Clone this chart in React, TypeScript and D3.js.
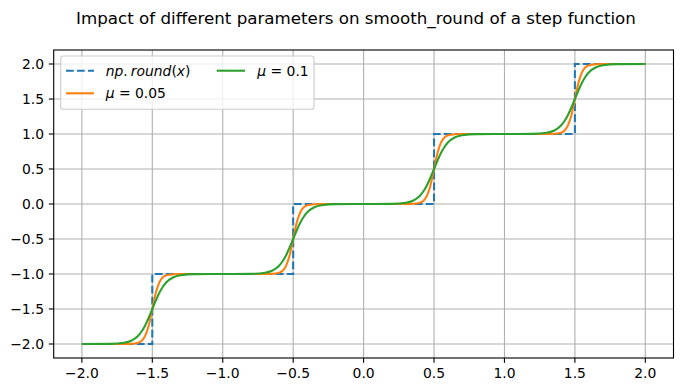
import React from "react";
import * as d3 from "d3";

// ---- data ----
const stepX = [-2, -1.5, -1.5, -0.5, -0.5, 0.5, 0.5, 1.5, 1.5, 2];
const stepY = [-2, -2, -1, -1, 0, 0, 1, 1, 2, 2];

const sampleX = [
  -2.0,
  -1.8, -1.7, -1.65, -1.6, -1.575, -1.55, -1.525, -1.5, -1.475, -1.45, -1.425, -1.4, -1.35, -1.3, -1.2,
  -1.0,
  -0.8, -0.7, -0.65, -0.6, -0.575, -0.55, -0.525, -0.5, -0.475, -0.45, -0.425, -0.4, -0.35, -0.3, -0.2,
  0.0,
  0.2, 0.3, 0.35, 0.4, 0.425, 0.45, 0.475, 0.5, 0.525, 0.55, 0.575, 0.6, 0.65, 0.7, 0.8,
  1.0,
  1.2, 1.3, 1.35, 1.4, 1.425, 1.45, 1.475, 1.5, 1.525, 1.55, 1.575, 1.6, 1.65, 1.7, 1.8,
  2.0,
];

const mu005Y = [
  -2,
  -2, -2, -1.997, -1.982, -1.953, -1.881, -1.731, -1.5, -1.269, -1.119, -1.047, -1.018, -1.003, -1, -1,
  -1,
  -1, -1, -0.997, -0.982, -0.953, -0.881, -0.731, -0.5, -0.269, -0.119, -0.047, -0.018, -0.003, 0, 0,
  0,
  0, 0, 0.003, 0.018, 0.047, 0.119, 0.269, 0.5, 0.731, 0.881, 0.953, 0.982, 0.997, 1, 1,
  1,
  1, 1, 1.003, 1.018, 1.047, 1.119, 1.269, 1.5, 1.731, 1.881, 1.953, 1.982, 1.997, 2, 2,
  2,
];

const mu01Y = [
  -2,
  -1.998, -1.982, -1.953, -1.881, -1.818, -1.731, -1.622, -1.5, -1.378, -1.269, -1.182, -1.119, -1.047, -1.018, -1.002,
  -1,
  -0.998, -0.982, -0.953, -0.881, -0.818, -0.731, -0.622, -0.5, -0.378, -0.269, -0.182, -0.119, -0.047, -0.018, -0.002,
  0,
  0.002, 0.018, 0.047, 0.119, 0.182, 0.269, 0.378, 0.5, 0.622, 0.731, 0.818, 0.881, 0.953, 0.982, 0.998,
  1,
  1.002, 1.018, 1.047, 1.119, 1.182, 1.269, 1.378, 1.5, 1.622, 1.731, 1.818, 1.881, 1.953, 1.982, 1.998,
  2,
];

const xTicks = [-2, -1.5, -1, -0.5, 0, 0.5, 1, 1.5, 2];
const yTicks = [-2, -1.5, -1, -0.5, 0, 0.5, 1, 1.5, 2];

const titleText = "Impact of different parameters on smooth_round of a step function";

const W = 683;
const H = 391;
const PL = 53.7, PR = 673.5, PT = 50, PB = 358;
const FONT = "DejaVu Sans";
const C_BLUE = "#1f77b4", C_ORANGE = "#ff7f0e", C_GREEN = "#2ca02c";
const LW = 2.08;
const DASH = "7.7,3.3";

const fmt = (v: number) => {
  const s = Math.abs(v).toFixed(1);
  return v < 0 ? "\u2212" + s : s;
};

export default function App() {
  const x = d3.scaleLinear().domain([-2.2, 2.2]).range([PL, PR]);
  const y = d3.scaleLinear().domain([-2.2, 2.2]).range([PB, PT]);

  const lineLin = d3.line<[number, number]>().x(d => x(d[0])).y(d => y(d[1]));
  const lineSmooth = d3
    .line<[number, number]>()
    .x(d => x(d[0]))
    .y(d => y(d[1]))
    .curve(d3.curveMonotoneX);

  const stepPts = stepX.map((v, i) => [v, stepY[i]] as [number, number]);
  const o5Pts = sampleX.map((v, i) => [v, mu005Y[i]] as [number, number]);
  const g1Pts = sampleX.map((v, i) => [v, mu01Y[i]] as [number, number]);

  const fs = 13.9;

  return (
    <svg
      width={W}
      height={H}
      style={{ position: "absolute", left: 0, top: 0, background: "#fff" }}
      fontFamily={FONT}
    >
      <rect x={0} y={0} width={W} height={H} fill="#fff" />
      <text x={356} y={24} fontSize={16.7} textAnchor="middle" fill="#000">
        {titleText}
      </text>

      {/* grid */}
      {xTicks.map(t => (
        <line key={"gx" + t} x1={x(t)} x2={x(t)} y1={PT} y2={PB} stroke="#b0b0b0" strokeWidth={1.11} />
      ))}
      {yTicks.map(t => (
        <line key={"gy" + t} x1={PL} x2={PR} y1={y(t)} y2={y(t)} stroke="#b0b0b0" strokeWidth={1.11} />
      ))}

      <defs>
        <clipPath id="plotclip">
          <rect x={PL} y={PT} width={PR - PL} height={PB - PT} />
        </clipPath>
      </defs>

      <g clipPath="url(#plotclip)" fill="none">
        <path d={lineLin(stepPts) || ""} stroke={C_BLUE} strokeWidth={LW} strokeDasharray={DASH} />
        <path d={lineSmooth(o5Pts) || ""} stroke={C_ORANGE} strokeWidth={LW} strokeLinejoin="round" />
        <path d={lineSmooth(g1Pts) || ""} stroke={C_GREEN} strokeWidth={LW} strokeLinejoin="round" />
      </g>

      {/* spines */}
      <rect x={PL} y={PT} width={PR - PL} height={PB - PT} fill="none" stroke="#000" strokeWidth={1.11} />

      {/* x ticks */}
      {xTicks.map(t => (
        <g key={"tx" + t}>
          <line x1={x(t)} x2={x(t)} y1={PB} y2={PB + 4.86} stroke="#000" strokeWidth={1.11} />
          <text x={x(t)} y={378.3} fontSize={fs} textAnchor="middle" fill="#000">
            {fmt(t)}
          </text>
        </g>
      ))}
      {/* y ticks */}
      {yTicks.map(t => (
        <g key={"ty" + t}>
          <line x1={PL - 4.86} x2={PL} y1={y(t)} y2={y(t)} stroke="#000" strokeWidth={1.11} />
          <text x={PL - 4.86 - 4.86} y={y(t) + 5} fontSize={fs} textAnchor="end" fill="#000">
            {fmt(t)}
          </text>
        </g>
      ))}

      {/* legend */}
      <rect
        x={60.7}
        y={56}
        width={253.3}
        height={53.3}
        rx={2.8}
        fill="#fff"
        fillOpacity={0.8}
        stroke="#cccccc"
        strokeWidth={1.11}
      />
      <line x1={66} x2={94} y1={70.7} y2={70.7} stroke={C_BLUE} strokeWidth={LW} strokeDasharray={DASH} />
      <text x={105.7} y={75.7} fontSize={fs} fill="#000">
        <tspan fontStyle="italic">np</tspan>
        <tspan>.</tspan>
        <tspan fontStyle="italic" dx={3}>round</tspan>
        <tspan>(</tspan>
        <tspan fontStyle="italic">x</tspan>
        <tspan>)</tspan>
      </text>
      <line x1={66} x2={94} y1={93.3} y2={93.3} stroke={C_ORANGE} strokeWidth={LW} />
      <text x={105.7} y={98.3} fontSize={fs} fill="#000">
        <tspan fontStyle="italic">μ</tspan>
        <tspan> = 0.05</tspan>
      </text>
      <line x1={216.7} x2={245} y1={70.7} y2={70.7} stroke={C_GREEN} strokeWidth={LW} />
      <text x={257.3} y={75.7} fontSize={fs} fill="#000">
        <tspan fontStyle="italic">μ</tspan>
        <tspan> = 0.1</tspan>
      </text>
    </svg>
  );
}
